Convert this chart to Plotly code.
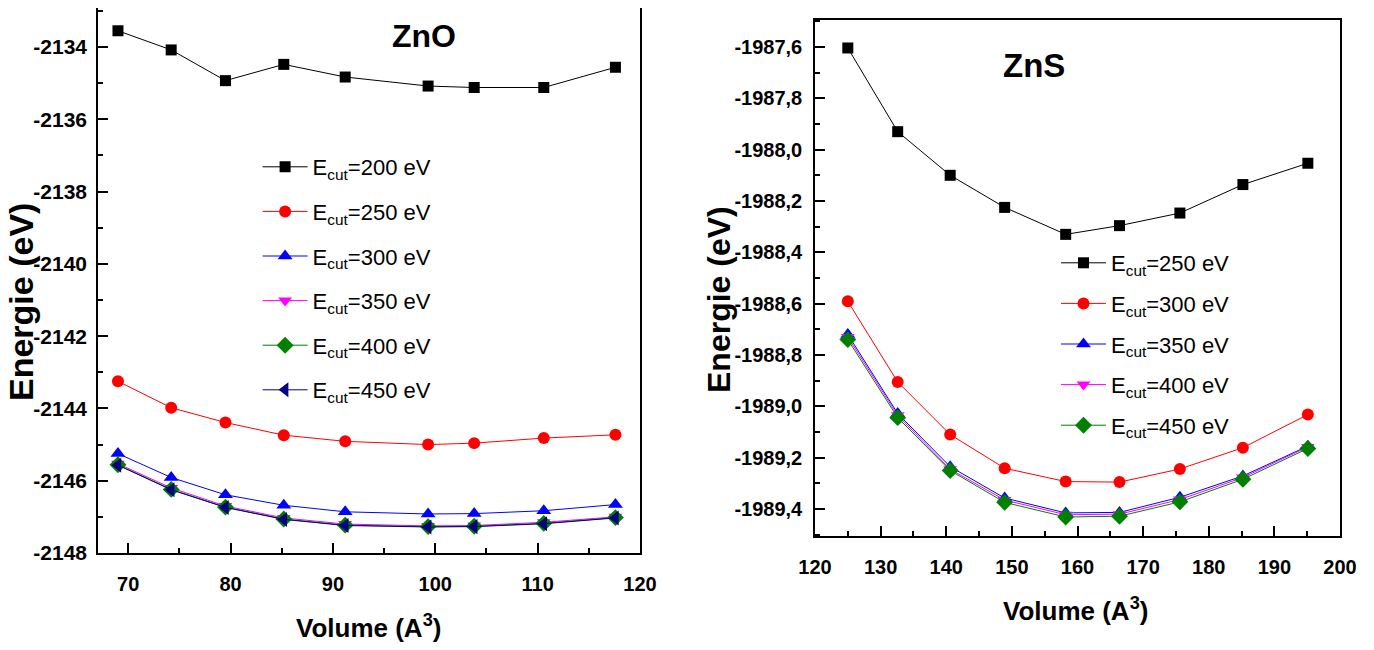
import plotly.graph_objects as go

# ---------------- ZnO data ----------------
zno_volume = [69.0, 74.2, 79.5, 85.2, 91.2, 99.3, 103.8, 110.6, 117.6]
zno_e200 = [-2133.55, -2134.08, -2134.93, -2134.48, -2134.83, -2135.08, -2135.12, -2135.12, -2134.56]
zno_e250 = [-2143.25, -2143.98, -2144.39, -2144.74, -2144.91, -2145.00, -2144.96, -2144.82, -2144.73]
zno_e300 = [-2145.25, -2145.91, -2146.39, -2146.68, -2146.86, -2146.92, -2146.91, -2146.83, -2146.66]
zno_e350 = [-2145.53, -2146.20, -2146.70, -2147.03, -2147.20, -2147.25, -2147.24, -2147.15, -2147.00]
zno_e400 = [-2145.56, -2146.24, -2146.73, -2147.06, -2147.23, -2147.27, -2147.26, -2147.18, -2147.02]
zno_e450 = [-2145.57, -2146.25, -2146.74, -2147.07, -2147.24, -2147.28, -2147.27, -2147.19, -2147.03]
zno_series = [zno_e200, zno_e250, zno_e300, zno_e350, zno_e400, zno_e450]
zno_labels = ["200", "250", "300", "350", "400", "450"]

# ---------------- ZnS data ----------------
zns_volume = [125.0, 132.6, 140.6, 148.9, 158.2, 166.4, 175.6, 185.2, 195.1]
zns_e250 = [-1987.604, -1987.930, -1988.100, -1988.225, -1988.330, -1988.296, -1988.247, -1988.136, -1988.053]
zns_e300 = [-1988.591, -1988.905, -1989.110, -1989.241, -1989.293, -1989.295, -1989.244, -1989.161, -1989.032]
zns_e350 = [-1988.720, -1989.028, -1989.235, -1989.357, -1989.415, -1989.413, -1989.354, -1989.271, -1989.155]
zns_e400 = [-1988.730, -1989.035, -1989.245, -1989.365, -1989.422, -1989.420, -1989.363, -1989.277, -1989.158]
zns_e450 = [-1988.740, -1989.044, -1989.250, -1989.374, -1989.431, -1989.428, -1989.372, -1989.284, -1989.164]
zns_series = [zns_e250, zns_e300, zns_e350, zns_e400, zns_e450]
zns_labels = ["250", "300", "350", "400", "450"]

# tick labels
zno_yticks = [-2148, -2146, -2144, -2142, -2140, -2138, -2136, -2134]
zno_yticktext = ["-2148", "-2146", "-2144", "-2142", "-2140", "-2138", "-2136", "-2134"]
zno_xticks = [70, 80, 90, 100, 110, 120]
zno_xticktext = ["70", "80", "90", "100", "110", "120"]
zns_yticks = [-1989.4, -1989.2, -1989.0, -1988.8, -1988.6, -1988.4, -1988.2, -1988.0, -1987.8, -1987.6]
zns_yticktext = ["-1989,4", "-1989,2", "-1989,0", "-1988,8", "-1988,6", "-1988,4", "-1988,2", "-1988,0", "-1987,8", "-1987,6"]
zns_xticks = [120, 130, 140, 150, 160, 170, 180, 190, 200]
zns_xticktext = ["120", "130", "140", "150", "160", "170", "180", "190", "200"]

# styles
zno_styles = [("black", "square", 11), ("#ff0000", "circle", 12), ("#0000ff", "triangle-up", 13),
              ("#ff00ff", "triangle-down", 12), ("#008000", "diamond", 13), ("#000080", "triangle-left", 13)]
zns_styles = [("black", "square", 11), ("#ff0000", "circle", 12), ("#0000ff", "triangle-up", 13),
              ("#ff00ff", "triangle-down", 12), ("#008000", "diamond", 13)]

FONT = "Liberation Sans, Arial, sans-serif"

# page has an 8 px body margin: figure is 1358x634 placed at (8, 8)
W, H, OFF = 1358, 634, 8


def px(xp):
    return (xp - OFF) / W


def py(yp):
    return 1 - (yp - OFF) / H


def bold(lst):
    return ["<b>%s</b>" % s for s in lst]


fig = go.Figure()
for i, (ys, lab, st) in enumerate(zip(zno_series, zno_labels, zno_styles)):
    fig.add_trace(go.Scatter(
        x=zno_volume, y=ys, mode="lines+markers",
        name="E<sub>cut</sub>=%s eV" % lab,
        line=dict(color=st[0], width=1),
        marker=dict(color=st[0], symbol=st[1], size=st[2]),
        xaxis="x", yaxis="y", legend="legend", legendgroup="a%d" % i))
for i, (ys, lab, st) in enumerate(zip(zns_series, zns_labels, zns_styles)):
    fig.add_trace(go.Scatter(
        x=zns_volume, y=ys, mode="lines+markers",
        name="E<sub>cut</sub>=%s eV" % lab,
        line=dict(color=st[0], width=1),
        marker=dict(color=st[0], symbol=st[1], size=st[2]),
        xaxis="x2", yaxis="y2", legend="legend2", legendgroup="b%d" % i))

common = dict(showline=True, linecolor="black", linewidth=1.5, mirror=True,
              ticks="inside", ticklen=10, tickwidth=1.5, tickcolor="black",
              showgrid=False, zeroline=False, automargin=False,
              tickfont=dict(family=FONT, size=20, color="black"))


def minor(d):
    return dict(dtick=d, tick0=0, ticks="inside", ticklen=5, tickwidth=1.5, tickcolor="black")


def label(text, xp, yp, size, angle=0):
    return dict(text=text, x=px(xp), y=py(yp), xref="paper", yref="paper",
                xanchor="center", yanchor="middle", showarrow=False, textangle=angle,
                font=dict(family=FONT, size=size, color="black"))


fig.update_layout(
    width=W, height=H,
    margin=dict(l=0, r=0, t=0, b=0, autoexpand=False),
    paper_bgcolor="white", plot_bgcolor="white",
    showlegend=True,
    xaxis=dict(domain=[px(98), px(640)], range=[67.05, 120], anchor="y",
               tickvals=zno_xticks, ticktext=bold(zno_xticktext), ticklabelstandoff=12,
               minor=minor(5), **common),
    yaxis=dict(domain=[py(553), py(8)], range=[-2148, -2132.92], anchor="x",
               tickvals=zno_yticks, ticktext=bold(zno_yticktext), ticklabelstandoff=5,
               minor=minor(1), **dict(common, tickfont=dict(family=FONT, size=21, color="black"))),
    xaxis2=dict(domain=[px(815), px(1340)], range=[120, 200], anchor="y2",
                tickvals=zns_xticks, ticktext=bold(zns_xticktext), ticklabelstandoff=12,
                minor=minor(5), **common),
    yaxis2=dict(domain=[py(536), py(20)], range=[-1989.505, -1987.495], anchor="x2",
                tickvals=zns_yticks, ticktext=bold(zns_yticktext), ticklabelstandoff=7,
                minor=minor(0.1), **common),
    legend=dict(x=px(257.6), y=py(146), xanchor="left", yanchor="top", bgcolor="rgba(0,0,0,0)",
                traceorder="grouped", tracegroupgap=13, itemwidth=45,
                font=dict(family=FONT, size=22, color="black")),
    legend2=dict(x=px(1056), y=py(242), xanchor="left", yanchor="top", bgcolor="rgba(0,0,0,0)",
                 traceorder="grouped", tracegroupgap=9, itemwidth=45,
                 font=dict(family=FONT, size=22, color="black")),
    annotations=[
        label("<b>ZnO</b>", 424, 36, 32),
        label("<b>ZnS</b>", 1034, 66, 33),
        label("<b>Energie (eV)</b>", 21, 302, 34, -90),
        label("<b>Energie (eV)</b>", 719, 300, 32, -90),
        label("<b>Volume (A<sup>3</sup>)</b>", 368, 626, 26),
        label("<b>Volume (A<sup>3</sup>)</b>", 1075, 609, 26),
    ],
)

fig.write_html("out.html")
